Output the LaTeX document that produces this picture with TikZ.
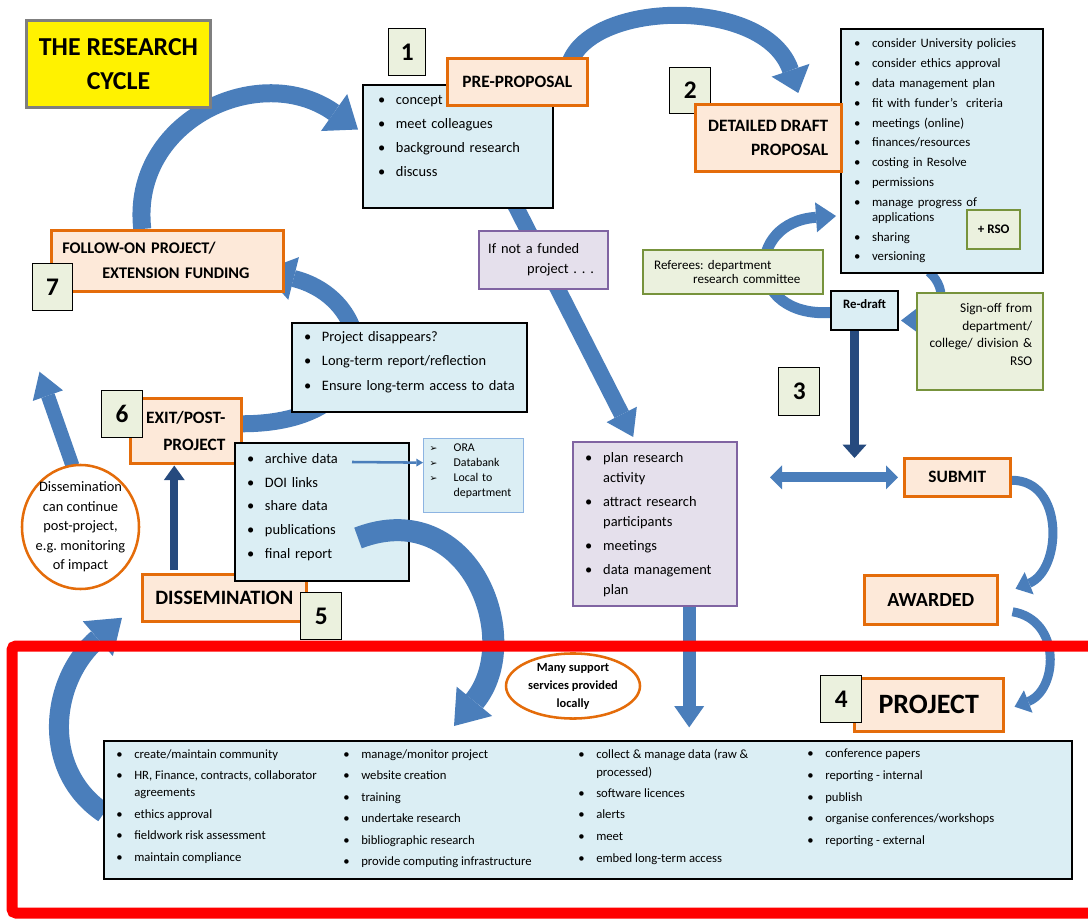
\documentclass[tikz,border=0pt]{standalone}
\usepackage{fontspec}
\setmainfont{Carlito}
\newfontfamily\symfont{DejaVu Sans}
\usetikzlibrary{arrows.meta,shapes.geometric,calc}
\frenchspacing

\definecolor{orangeline}{HTML}{E46C0A}
\definecolor{orangefill}{HTML}{FDE9D9}
\definecolor{bluefill}{HTML}{DBEEF4}
\definecolor{greenfill}{HTML}{EBF1DE}
\definecolor{greenline}{HTML}{77933C}
\definecolor{purplefill}{HTML}{E5E0EC}
\definecolor{purpleline}{HTML}{8064A2}
\definecolor{arrowblue}{HTML}{4A7EBB}
\definecolor{navyblue}{HTML}{264A7E}
\definecolor{oraline}{HTML}{8DB4E2}
\definecolor{titlegray}{HTML}{7F7F7F}

\pgfdeclarelayer{back}
\pgfsetlayers{back,main}

\newcommand{\bl}{\makebox[13.5pt][l]{\textbullet}}
\newcommand{\ind}{\hspace*{13.5pt}}
\newcommand{\orabul}{\makebox[18pt][l]{\symfont\fontsize{7}{8}\selectfont ➢}}

\tikzset{
  wh/.style 2 args={minimum width=#1*0.75pt, minimum height=#2*0.75pt},
  titlebox/.style={draw=titlegray, fill=yellow, line width=2.2pt, align=center,
    font=\bfseries\fontsize{19.4}{26}\selectfont},
  headbox/.style={draw=orangeline, fill=orangefill, line width=1.9pt, inner sep=0pt,
    font=\bfseries\fontsize{13}{18}\selectfont},
  numbox/.style={draw=black, fill=greenfill, line width=1pt, inner sep=0pt,
    font=\bfseries\fontsize{19}{22}\selectfont},
  listbox/.style={draw=black, fill=bluefill, line width=1.5pt, align=left, inner ysep=0pt},
  notebox/.style={draw=greenline, fill=greenfill, line width=1.8pt, align=left, inner ysep=0pt},
  purplebox/.style={draw=purpleline, fill=purplefill, line width=1.8pt, align=left, inner ysep=0pt},
  orabox/.style={draw=oraline, fill=bluefill, line width=1pt, align=left, inner ysep=0pt},
  roundnote/.style={ellipse, draw=orangeline, fill=white, line width=1.9pt, align=center},
  tasks/.style={align=left, inner sep=0pt, font=\fontsize{9.5}{12.75}\selectfont},
  bigarrow/.style n args={3}{draw=arrowblue, line width=#1,
    -{Triangle[width=#2, length=#3, line width=0pt]}},
  twoarrow/.style n args={3}{draw=arrowblue, line width=#1,
    {Triangle[width=#2, length=#3, line width=0pt]}-{Triangle[width=#2, length=#3, line width=0pt]}},
  darkarrow/.style n args={3}{draw=navyblue, line width=#1,
    -{Triangle[width=#2, length=#3, line width=0pt]}},
}

\begin{document}
\begin{tikzpicture}[x=0.75pt,y=-0.75pt]
\useasboundingbox (0,0) rectangle (1088,919);

% title
\node[titlebox, anchor=north west, wh={184}{87}] (title) at (25,19) {THE RESEARCH\\CYCLE};

% 1: pre-proposal
\node[listbox, anchor=north west, wh={190}{123}, inner xsep=11.25pt, text width=120pt,
  font=\fontsize{10.8}{18}\selectfont] (prelist) at (362,84)
  {\bl concept\\ \bl meet colleagues\\ \bl background research\\
   \bl discuss\rule[-16pt]{0pt}{0pt}};
\node[numbox, anchor=north west, wh={37}{47}] (n1) at (388,28) {1};
\node[headbox, anchor=north west, wh={140}{47}] (pre) at (446,57) {PRE-PROPOSAL};

% 2: detailed draft
\node[listbox, anchor=north west, wh={202}{244}, inner xsep=9.75pt, text width=132pt,
  font=\fontsize{9.6}{14.85}\selectfont] (draftlist) at (840,28)
  {\bl consider University policies\\
   \bl consider ethics approval\\
   \bl data management plan\\
   \bl fit with funder’s\ \ criteria\\
   \bl meetings (online)\\
   \bl finances/resources\\
   \bl costing in Resolve\\
   \bl permissions\\
   \bl manage progress of\\[-3.6pt]
   \ind applications\\
   \bl sharing\\
   \bl versioning};
\node[numbox, anchor=north west, wh={41}{46}] (n2) at (669,67) {2};
\node[headbox, anchor=north west, wh={146}{67}, align=right] (draft) at (694,103)
  {DETAILED DRAFT\\PROPOSAL};
\node[notebox, anchor=north west, wh={53}{39}, align=center,
  font=\bfseries\fontsize{9.8}{12}\selectfont] (rso) at (966,209) {+ RSO};

% 3: review and submit
\node[notebox, anchor=north west, wh={180}{44}, inner xsep=8.25pt, text width=118.5pt,
  font=\fontsize{9.8}{10.5}\selectfont] (referees) at (642,249)
  {Referees: department\\\hspace*{29.25pt}research committee};
\node[listbox, anchor=north west, wh={67}{39}, inner sep=0pt, align=center,
  font=\bfseries\fontsize{9.6}{12}\selectfont] (redraft) at (830,290)
  {Re-draft\rule[-10pt]{0pt}{0pt}};
\node[notebox, anchor=north west, wh={126}{97}, inner xsep=8.25pt, text width=78pt,
  align=right, font=\fontsize{10}{13.3}\selectfont] (signoff) at (916,292)
  {Sign-off from\\department/\\college/ division \&\\RSO\rule[-11pt]{0pt}{0pt}};
\node[numbox, anchor=north west, wh={41}{48}] (n3) at (778,367) {3};
\node[headbox, anchor=north west, wh={106}{38}] (submit) at (903,457) {SUBMIT};
\node[headbox, anchor=north west, wh={133}{49},
  font=\bfseries\fontsize{15}{18}\selectfont] (awarded) at (863,574) {AWARDED};

% not funded
\node[purplebox, anchor=north west, wh={129}{58}, inner xsep=6.75pt, text width=83.25pt,
  font=\fontsize{10.8}{15}\selectfont] (notfunded) at (478,230)
  {If not a funded\\\hspace*{29.25pt}\mbox{project . . .}};
\node[purplebox, anchor=north west, wh={164}{164}, inner xsep=9pt, text width=105pt,
  font=\fontsize{10.8}{15}\selectfont] (planlist) at (572,441)
  {\bl plan research\\ \ind activity\\[3pt]
   \bl attract research\\ \ind participants\\[3pt]
   \bl meetings\\[3pt]
   \bl data management\\ \ind plan};

% 4: project
\node[headbox, anchor=north west, wh={149}{53},
  font=\bfseries\fontsize{21}{24}\selectfont] (project) at (853,677) {PROJECT};
\node[numbox, anchor=north west, wh={41}{47}] (n4) at (820,675) {4};
\node[listbox, anchor=north west, wh={968}{138}] (bottom) at (103,740) {};
\node[tasks, anchor=north west] (tasks1) at (116,749)
  {\bl create/maintain community\\[3.4pt]
   \bl HR, Finance, contracts, collaborator\\
   \ind agreements\\[3.4pt]
   \bl ethics approval\\[3.4pt]
   \bl fieldwork risk assessment\\[3.4pt]
   \bl maintain compliance};
\node[tasks, anchor=north west] (tasks2) at (343,749)
  {\bl manage/monitor project\\[3.4pt]
   \bl website creation\\[3.4pt]
   \bl training\\[3.4pt]
   \bl undertake research\\[3.4pt]
   \bl bibliographic research\\[3.4pt]
   \bl provide computing infrastructure};
\node[tasks, anchor=north west] (tasks3) at (578,749)
  {\bl collect \& manage data (raw \&\\[0.7pt]
   \ind processed)\\[3pt]
   \bl software licences\\[3.4pt]
   \bl alerts\\[3.4pt]
   \bl meet\\[3.4pt]
   \bl embed long-term access};
\node[tasks, anchor=north west] (tasks4) at (807,749)
  {\bl conference papers\\[3.4pt]
   \bl reporting - internal\\[3.4pt]
   \bl publish\\[3.4pt]
   \bl organise conferences/workshops\\[3.4pt]
   \bl reporting - external};
\node[roundnote, wh={134}{65}, inner sep=0pt,
  font=\bfseries\fontsize{9.3}{13.5}\selectfont] (support) at (573,686)
  {Many support\\services provided\\locally};

% 5: dissemination
\node[headbox, anchor=north west, wh={164}{47},
  font=\bfseries\fontsize{15.3}{18}\selectfont] (dissem) at (141,573) {DISSEMINATION};
\node[numbox, anchor=north west, wh={41}{47}] (n5) at (300,592) {5};
\node[roundnote, wh={117}{124}, inner sep=-4pt,
  font=\fontsize{10.8}{14.6}\selectfont] (circle) at (80.5,527)
  {Dissemination\\can continue\\post-project,\\e.g. monitoring\\of impact};

% 6: exit
\node[headbox, anchor=north west, wh={111}{65}, align=right,
  font=\bfseries\fontsize{13}{20}\selectfont] (exit) at (129,397) {EXIT/POST-\\PROJECT};
\node[numbox, anchor=north west, wh={41}{47}] (n6) at (101,390) {6};
\node[listbox, anchor=north west, wh={174}{138}, inner xsep=9pt, text width=112.5pt,
  font=\fontsize{10.8}{17.8}\selectfont] (exitlist) at (234,442)
  {\bl archive data\\ \bl DOI links\\ \bl share data\\ \bl publications\\
   \bl final report\rule[-9pt]{0pt}{0pt}};
\node[orabox, anchor=north west, wh={100}{74}, inner xsep=4.5pt, text width=66pt,
  font=\fontsize{8.9}{11.25}\selectfont] (ora) at (423,438)
  {\orabul ORA\\ \orabul Databank\\ \orabul Local to\\
   \hspace*{18pt}department\rule[-9pt]{0pt}{0pt}};

% 7: follow-on
\node[listbox, anchor=north west, wh={235}{89}, inner xsep=9pt, text width=158.25pt,
  font=\fontsize{10.8}{18.4}\selectfont] (disappear) at (291,322)
  {\bl Project disappears?\\ \bl Long-term report/reflection\\
   \bl Ensure long-term access to data\rule[-10pt]{0pt}{0pt}};
\node[headbox, anchor=north west, wh={232}{61}, inner xsep=8.25pt, text width=157.5pt,
  align=left, font=\bfseries\fontsize{12.2}{18.75}\selectfont] (follow) at (50,229)
  {FOLLOW-ON PROJECT/\\\hspace*{30pt}EXTENSION FUNDING};
\node[numbox, anchor=north west, wh={40}{47}] (n7) at (32,263) {7};

% arrows behind the boxes
\begin{pgfonlayer}{back}
  \draw[bigarrow={13.5pt}{34pt}{22pt}] ($(follow.north)+(-25,0)$)
    .. controls (130,120) and (260,60) .. ($(prelist.west)+(-4,-17)$);
  \draw[bigarrow={12.75pt}{30pt}{18pt}] ($(pre.north east)+(-20,10)$)
    .. controls (585,0) and (765,-5) .. ($(draft.north)+(30,-10)$);
  \draw[bigarrow={12pt}{25.5pt}{19pt}] ($(prelist.south)+(55,-8)$)
    -- ($(planlist.north)+(-22,-4)$);
  \draw[bigarrow={8.25pt}{22.5pt}{15pt}] ($(redraft.west)+(1,2)$)
    .. controls (745,318) and (745,222) .. ($(draftlist.west)+(-4,65)$);
  \draw[bigarrow={6.75pt}{18pt}{12pt}] ($(draftlist.south)+(-13,-2)$)
    .. controls (950,290) and (942,320) .. ($(redraft.east)+(2,10)$);
  \draw[darkarrow={6.75pt}{18pt}{10pt}] ($(redraft.south)+(-10,0)$)
    -- ($(redraft.south)+(-10,127)$);
  \draw[twoarrow={7.5pt}{18pt}{9pt}] ($(submit.west)+(-133,0)$)
    -- ($(submit.west)+(-5,0)$);
  \draw[bigarrow={6.75pt}{18pt}{11pt}] ($(submit.east)+(0,3)$)
    .. controls (1065,480) and (1062,570) .. ($(awarded.east)+(17,-11)$);
  \draw[bigarrow={6.75pt}{18pt}{11pt}] ($(awarded.east)+(14,12)$)
    .. controls (1062,620) and (1058,690) .. ($(project.east)+(10,2)$);
  \draw[bigarrow={9.75pt}{22.5pt}{16pt}] ($(planlist.south)+(34,0)$)
    -- ($(planlist.south)+(34,120)$);
  \draw[bigarrow={15pt}{34.5pt}{24pt}] ($(bottom.west)+(1,3)$)
    .. controls (40,770) and (50,680) .. ($(dissem.west)+(-19,20)$);
  \draw[bigarrow={10.5pt}{24pt}{19pt}] ($(circle.north)+(-8,2)$)
    -- ($(circle.north)+(-41,-92)$);
  \draw[darkarrow={6pt}{15.75pt}{11pt}] ($(dissem.north)+(-50,-3)$)
    -- ($(exit.south)+(-11.5,1)$);
  \draw[bigarrow={12.75pt}{33pt}{24pt}] ($(exit.east)+(-3,-7)$)
    .. controls (390,425) and (380,300) .. ($(follow.east)+(-22,10)$);
\end{pgfonlayer}

% arrows over the exit list
\draw[bigarrow={16.5pt}{34.5pt}{24pt}] ($(exitlist.east)+(-52,26)$)
  .. controls (470,495) and (525,640) .. ($(bottom.north)+(-134,-14)$);
\draw[bigarrow={1.9pt}{6pt}{5pt}] ($(exitlist.north west)+(118,20)$)
  -- ($(ora.west)+(0,-13)$);

% red frame
\draw[red, line width=8.25pt, rounded corners=3pt] (1100,646) -| (12,913) -- (1100,913);
\end{tikzpicture}
\end{document}
